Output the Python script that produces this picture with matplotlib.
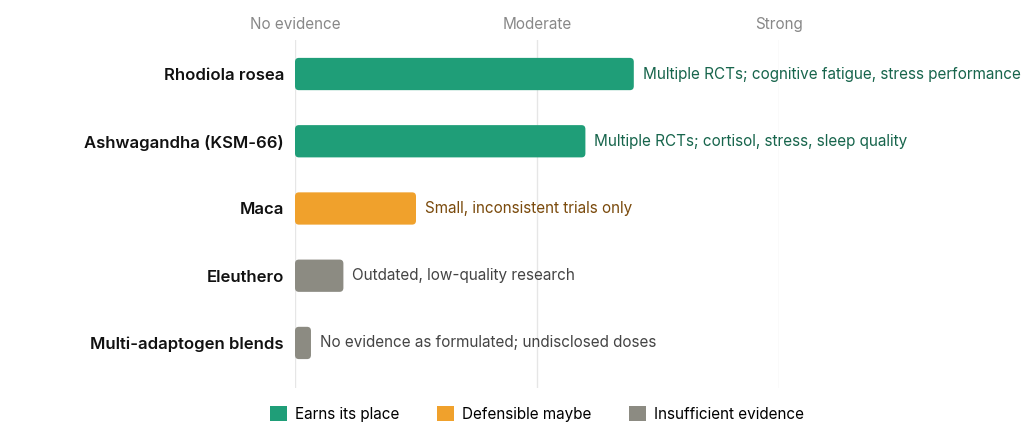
import matplotlib
matplotlib.use("Agg")
import matplotlib.pyplot as plt
from matplotlib.patches import FancyBboxPatch, Patch

plt.rcParams['font.family'] = ['Inter', 'DejaVu Sans']

categories = ["Rhodiola rosea", "Ashwagandha (KSM-66)", "Maca", "Eleuthero", "Multi-adaptogen blends"]
scores = [7.0, 6.0, 2.5, 1.0, 0.33]
groups = ["Earns its place", "Earns its place", "Defensible maybe", "Insufficient evidence", "Insufficient evidence"]
notes = ["Multiple RCTs; cognitive fatigue, stress performance",
         "Multiple RCTs; cortisol, stress, sleep quality",
         "Small, inconsistent trials only",
         "Outdated, low-quality research",
         "No evidence as formulated; undisclosed doses"]
tick_vals = [0, 5, 10]
tick_labels = ["No evidence", "Moderate", "Strong"]

fill = {"Earns its place": "#1f9e78", "Defensible maybe": "#f0a12c", "Insufficient evidence": "#8c8b82"}
textc = {"Earns its place": "#17654c", "Defensible maybe": "#7a4a0c", "Insufficient evidence": "#444444"}

fig = plt.figure(figsize=(10.24, 4.4), dpi=100)
ax = fig.add_axes([295/1024, 1-388/440, (779-295)/1024, 348/440])
ax.set_xlim(0, 10)
ax.set_ylim(4.67, -0.506)
h = 0.48
for i, (c, s, g, n) in enumerate(zip(categories, scores, groups, notes)):
    p = FancyBboxPatch((0, i-h/2), s, h, boxstyle="round,pad=0,rounding_size=0.08",
                       mutation_aspect=0.75, fc=fill[g], ec="none", zorder=3)
    ax.add_patch(p)
    ax.text(s+0.18, i, n, va="center", ha="left", fontsize=11, color=textc[g], clip_on=False)
ax.set_yticks(range(len(categories)))
ax.set_yticklabels(categories, fontsize=12, fontweight="semibold", color="#111111")
ax.tick_params(axis="y", length=0, pad=8)
ax.set_xticks(tick_vals)
ax.set_xticklabels(tick_labels, fontsize=11, color="#888888")
ax.xaxis.tick_top()
ax.tick_params(axis="x", length=0, pad=6)
for v in tick_vals:
    ax.axvline(v, color="#e6e6e6", lw=1, zorder=0)
for sp in ax.spines.values():
    sp.set_visible(False)

handles = [Patch(fc=fill[k], ec="none", label=k) for k in fill]
fig.legend(handles=handles, loc="center", bbox_to_anchor=(537/1024, 1-414/440), ncol=3,
           frameon=False, fontsize=11, handlelength=1.1, handleheight=1.1, columnspacing=2.5, handletextpad=0.5)
fig.savefig("out.png", dpi=100)
